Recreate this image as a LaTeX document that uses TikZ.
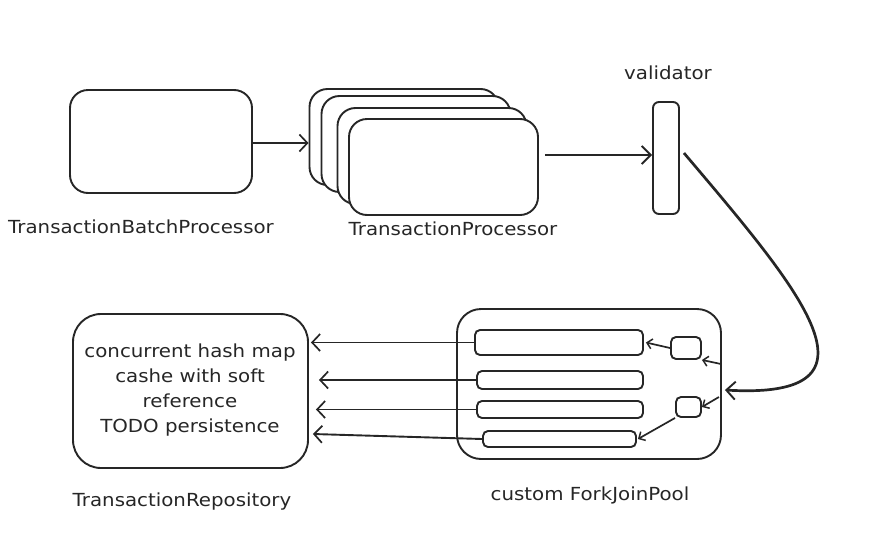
\documentclass[tikz,border=0pt]{standalone}
\usepackage{fontspec}
\setmainfont{DejaVu Sans}[FakeStretch=1.1]
\usetikzlibrary{arrows.meta}
\begin{document}
\begin{tikzpicture}[x=1pt,y=-1pt,
  box/.style={draw=black!85,line width=1.9pt,fill=white,inner sep=0pt,rectangle},
  lbl/.style={inner sep=0pt,font=\fontsize{18}{25}\selectfont,text=black!85},
  arr/.style={draw=black!85,line width=1.9pt,-{Straight Barb[length=8pt,width=17pt,line width=1.7pt]}},
  thickarr/.style={draw=black!85,line width=2.7pt,-{Straight Barb[length=9pt,width=18pt,line width=1.9pt]}},
  smallarr/.style={draw=black!85,line width=1.7pt,-{Straight Barb[length=5pt,width=10pt,line width=1.5pt]}}]
\useasboundingbox (0,0) rectangle (870,544);
% batch processor
\node[box,minimum width=182pt,minimum height=103pt,rounded corners=18pt] (batch) at (161,141.5) {};
\node[lbl] (batchl) at (141,227) {TransactionBatchProcessor};
% processor stack
\node[box,minimum width=189pt,minimum height=96pt,rounded corners=18pt] (p1) at (404,137) {};
\node[box,minimum width=189pt,minimum height=96pt,rounded corners=18pt] (p2) at (416,144) {};
\node[box,minimum width=189pt,minimum height=96pt,rounded corners=18pt] (p3) at (432,156) {};
\node[box,minimum width=189pt,minimum height=96pt,rounded corners=18pt] (p4) at (443.5,167) {};
\node[lbl] (procl) at (453,229) {TransactionProcessor};
% validator
\node[box,minimum width=26pt,minimum height=112pt,rounded corners=6pt] (val) at (666,158) {};
\node[lbl] (vall) at (668,73) {validator};
% fork join pool
\node[box,minimum width=264pt,minimum height=150pt,rounded corners=24pt] (fork) at (589,384) {};
\node[box,minimum width=168pt,minimum height=25pt,rounded corners=5pt] (b1) at (559,342.5) {};
\node[box,minimum width=166pt,minimum height=18pt,rounded corners=5pt] (b2) at (560,380) {};
\node[box,minimum width=166pt,minimum height=17pt,rounded corners=5pt] (b3) at (560,409.5) {};
\node[box,minimum width=153pt,minimum height=16pt,rounded corners=5pt] (b4) at (559.5,439) {};
\node[box,minimum width=30pt,minimum height=22pt,rounded corners=5pt] (s1) at (686,348) {};
\node[box,minimum width=25pt,minimum height=20pt,rounded corners=5pt] (s2) at (688.5,407) {};
\node[lbl] (forkl) at (590,495) {custom ForkJoinPool};
% repository
\node[box,minimum width=235pt,minimum height=154pt,rounded corners=28pt] (repo) at (190.5,391) {};
\node[lbl,align=center] (repot) at (190,390) {concurrent hash map\\cashe with soft\\reference\\TODO persistence};
\node[lbl] (repol) at (182,502) {TransactionRepository};
% connectors
\draw[arr] (batch.east |- 0,143) -- (p1.west |- 0,143);
\draw[thickarr] ([xshift=6pt]p4.east |- 0,155) -- (val.west |- 0,155);
\draw[thickarr] ([xshift=4pt]val.east |- 0,153) .. controls (800,290) and (895,400) .. ([xshift=3pt]fork.east |- 0,390);
\draw[smallarr] ([xshift=-1pt]fork.east |- 0,364) -- (s1.south east);
\draw[smallarr] ([xshift=-3pt]fork.east |- 0,397) -- (s2.east);
\draw[smallarr] (s2.south west) -- ([xshift=1pt]b4.east);
\draw[smallarr] (s1.west) -- ([xshift=2pt]b1.east);
\draw[arr] (b1.west) -- ([xshift=2pt]b1.west -| repo.east);
\draw[arr] (b2.west) -- ([xshift=10pt]b2.west -| repo.east);
\draw[arr] (b3.west) -- ([xshift=7pt]b3.west -| repo.east);
\draw[arr] (b4.west) -- ([xshift=4pt,yshift=5pt]b4.west -| repo.east);
\end{tikzpicture}
\end{document}
